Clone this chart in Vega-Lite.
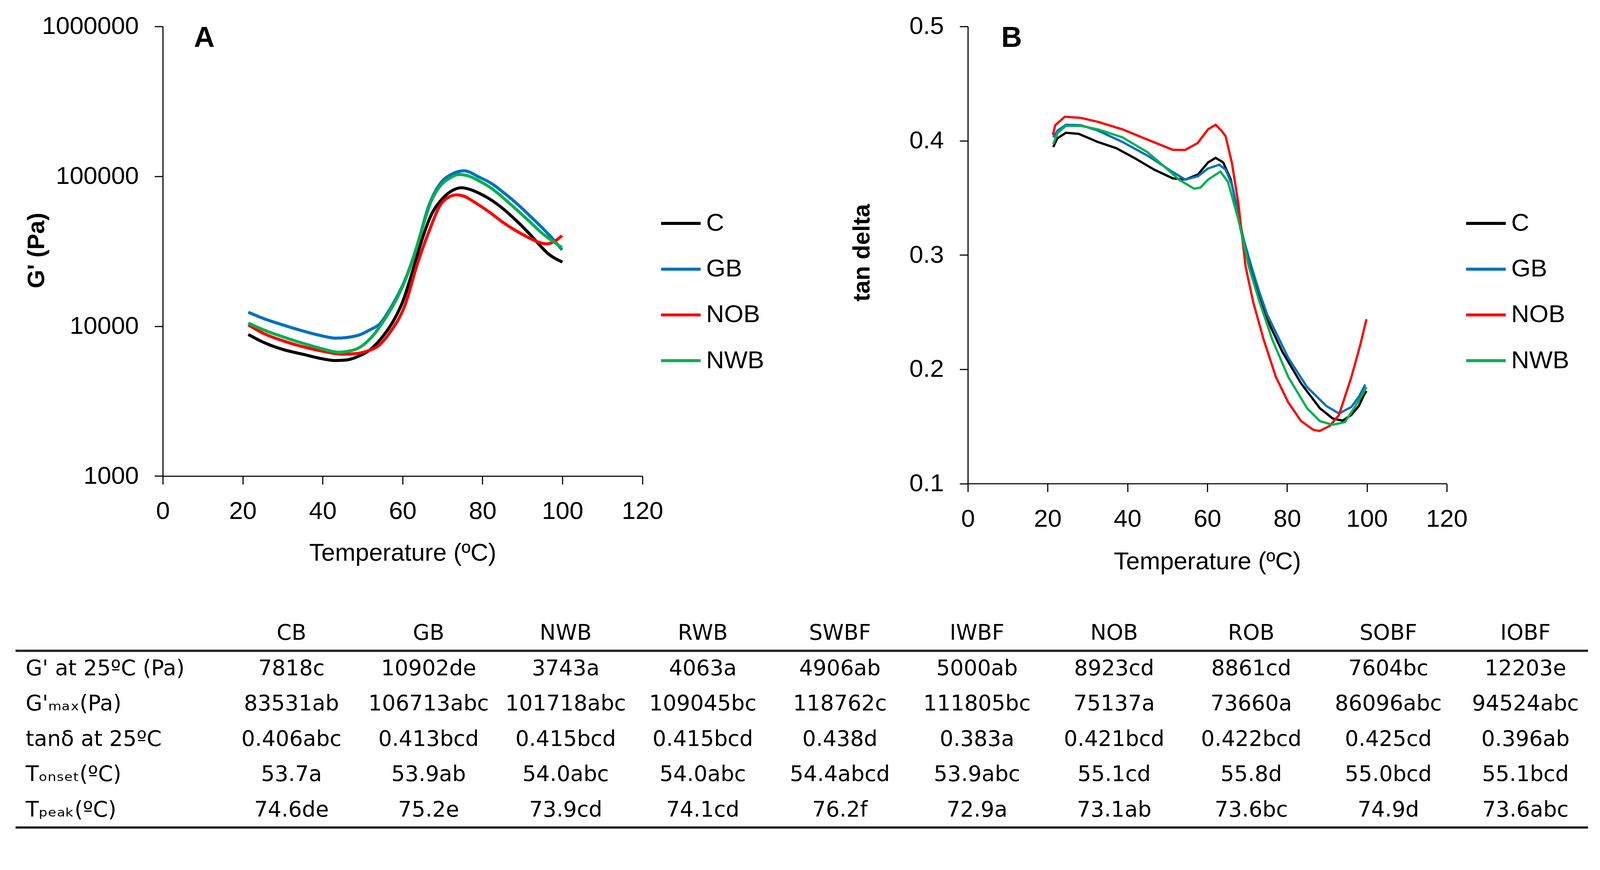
{
  "$schema": "https://vega.github.io/schema/vega-lite/v6.json",
  "background": "white",
  "padding": {"left": 36.7, "top": 35.7, "right": 33.8, "bottom": 31},
  "config": {
    "font": "Liberation Sans",
    "view": {"stroke": null},
    "axis": {"grid": false, "domainColor": "black", "domainWidth": 2.9, "tickColor": "black", "tickWidth": 2.9, "tickSize": 21.2, "labelColor": "black", "labelFontSize": 63.7, "labelFont": "Liberation Sans", "labelPadding": 40.5, "labelFlush": false, "labelLimit": 500, "titleColor": "black", "titleFont": "Liberation Sans", "titleFontSize": 62.7, "titleFontWeight": "normal"},
    "legend": {"title": null, "orient": "none", "legendX": 1271.3, "legendY": 449.4, "padding": 0, "symbolType": "stroke", "symbolSize": 10267, "symbolStrokeWidth": 7.7, "rowPadding": 30.2, "labelOffset": 9.7, "labelFontSize": 63.7, "labelFont": "Liberation Sans", "labelColor": "black", "labelLimit": 400}
  },
  "datasets": {
    "gA": [
      {"s":"C","T":21.4,"G":8800},{"s":"C","T":25,"G":7850},{"s":"C","T":30,"G":7000},{"s":"C","T":35,"G":6500},{"s":"C","T":40,"G":6050},{"s":"C","T":43,"G":5900},{"s":"C","T":46,"G":5950},{"s":"C","T":49,"G":6300},{"s":"C","T":52,"G":7000},{"s":"C","T":55,"G":8500},{"s":"C","T":58,"G":11200},{"s":"C","T":60,"G":14500},{"s":"C","T":62,"G":21000},{"s":"C","T":64.6,"G":36000},{"s":"C","T":67,"G":54000},{"s":"C","T":70,"G":71000},{"s":"C","T":72.5,"G":80500},{"s":"C","T":74.7,"G":83900},{"s":"C","T":77,"G":81500},{"s":"C","T":79.2,"G":77000},{"s":"C","T":82,"G":70000},{"s":"C","T":85.4,"G":60000},{"s":"C","T":88.5,"G":50500},{"s":"C","T":91.7,"G":41500},{"s":"C","T":94,"G":35500},{"s":"C","T":96.4,"G":30500},{"s":"C","T":98.5,"G":28000},{"s":"C","T":100,"G":26800},
      {"s":"GB","T":21.4,"G":12400},{"s":"GB","T":25,"G":11300},{"s":"GB","T":30,"G":10200},{"s":"GB","T":35,"G":9300},{"s":"GB","T":40,"G":8600},{"s":"GB","T":43.3,"G":8320},{"s":"GB","T":46,"G":8400},{"s":"GB","T":49.5,"G":8800},{"s":"GB","T":52,"G":9500},{"s":"GB","T":54.2,"G":10300},{"s":"GB","T":57.4,"G":13800},{"s":"GB","T":60.6,"G":20300},{"s":"GB","T":63.7,"G":34800},{"s":"GB","T":66.5,"G":63000},{"s":"GB","T":69.7,"G":91400},{"s":"GB","T":72.2,"G":103000},{"s":"GB","T":75.4,"G":108900},{"s":"GB","T":79.2,"G":98600},{"s":"GB","T":82.3,"G":89400},{"s":"GB","T":85.5,"G":77000},{"s":"GB","T":88.6,"G":65800},{"s":"GB","T":91.7,"G":55000},{"s":"GB","T":94.8,"G":45700},{"s":"GB","T":97.5,"G":38500},{"s":"GB","T":99.9,"G":32300},
      {"s":"NOB","T":21.4,"G":10200},{"s":"NOB","T":25,"G":9000},{"s":"NOB","T":30,"G":8000},{"s":"NOB","T":35,"G":7300},{"s":"NOB","T":40,"G":6800},{"s":"NOB","T":45,"G":6500},{"s":"NOB","T":48,"G":6550},{"s":"NOB","T":51,"G":6800},{"s":"NOB","T":54,"G":7400},{"s":"NOB","T":57,"G":9200},{"s":"NOB","T":60.6,"G":13800},{"s":"NOB","T":63.7,"G":26000},{"s":"NOB","T":66.5,"G":42100},{"s":"NOB","T":69.7,"G":65800},{"s":"NOB","T":71.5,"G":72500},{"s":"NOB","T":73.5,"G":75200},{"s":"NOB","T":75.5,"G":73500},{"s":"NOB","T":77.5,"G":68500},{"s":"NOB","T":80,"G":62000},{"s":"NOB","T":82.3,"G":56200},{"s":"NOB","T":85,"G":49500},{"s":"NOB","T":88.6,"G":43000},{"s":"NOB","T":91.5,"G":39000},{"s":"NOB","T":94.8,"G":35800},{"s":"NOB","T":96.1,"G":35400},{"s":"NOB","T":98,"G":36800},{"s":"NOB","T":99.9,"G":40200},
      {"s":"NWB","T":21.4,"G":10500},{"s":"NWB","T":25,"G":9500},{"s":"NWB","T":30,"G":8500},{"s":"NWB","T":35,"G":7700},{"s":"NWB","T":40,"G":7050},{"s":"NWB","T":44,"G":6700},{"s":"NWB","T":47,"G":6850},{"s":"NWB","T":49.5,"G":7280},{"s":"NWB","T":52,"G":8300},{"s":"NWB","T":55.8,"G":11400},{"s":"NWB","T":59,"G":16100},{"s":"NWB","T":62.2,"G":26000},{"s":"NWB","T":64.6,"G":42000},{"s":"NWB","T":67.2,"G":68500},{"s":"NWB","T":69.7,"G":87900},{"s":"NWB","T":72,"G":98000},{"s":"NWB","T":74.1,"G":102800},{"s":"NWB","T":76.5,"G":100500},{"s":"NWB","T":79.2,"G":93000},{"s":"NWB","T":82.3,"G":83000},{"s":"NWB","T":85.4,"G":71000},{"s":"NWB","T":88.5,"G":60000},{"s":"NWB","T":91.7,"G":50100},{"s":"NWB","T":95,"G":41500},{"s":"NWB","T":97.5,"G":37000},{"s":"NWB","T":99.9,"G":33400}
    ],
    "tB": [
      {"s":"C","T":21.4,"v":0.3945},{"s":"C","T":22.4,"v":0.402},{"s":"C","T":24.6,"v":0.407},{"s":"C","T":27.8,"v":0.406},{"s":"C","T":32.5,"v":0.399},{"s":"C","T":37.2,"v":0.3935},{"s":"C","T":41.9,"v":0.3846},{"s":"C","T":46.7,"v":0.3747},{"s":"C","T":51.4,"v":0.367},{"s":"C","T":54.5,"v":0.366},{"s":"C","T":57.7,"v":0.3705},{"s":"C","T":60.2,"v":0.381},{"s":"C","T":62.1,"v":0.385},{"s":"C","T":64,"v":0.381},{"s":"C","T":65.9,"v":0.366},{"s":"C","T":67.1,"v":0.347},{"s":"C","T":68.8,"v":0.318},{"s":"C","T":70.7,"v":0.292},{"s":"C","T":72.5,"v":0.268},{"s":"C","T":74.4,"v":0.248},{"s":"C","T":78.8,"v":0.2154},{"s":"C","T":83.5,"v":0.1877},{"s":"C","T":88.2,"v":0.166},{"s":"C","T":91.4,"v":0.157},{"s":"C","T":93.9,"v":0.155},{"s":"C","T":96.1,"v":0.16},{"s":"C","T":98,"v":0.168},{"s":"C","T":99.2,"v":0.177},{"s":"C","T":99.9,"v":0.181},
      {"s":"GB","T":21.4,"v":0.403},{"s":"GB","T":22.5,"v":0.409},{"s":"GB","T":24.6,"v":0.414},{"s":"GB","T":28.3,"v":0.4136},{"s":"GB","T":32.5,"v":0.409},{"s":"GB","T":38.7,"v":0.399},{"s":"GB","T":45,"v":0.387},{"s":"GB","T":51.4,"v":0.3725},{"s":"GB","T":54.5,"v":0.366},{"s":"GB","T":57.7,"v":0.369},{"s":"GB","T":60.2,"v":0.3757},{"s":"GB","T":63,"v":0.379},{"s":"GB","T":64.6,"v":0.3747},{"s":"GB","T":66.2,"v":0.3615},{"s":"GB","T":67.5,"v":0.34},{"s":"GB","T":69,"v":0.315},{"s":"GB","T":70.9,"v":0.292},{"s":"GB","T":73,"v":0.268},{"s":"GB","T":75,"v":0.248},{"s":"GB","T":80.3,"v":0.21},{"s":"GB","T":85,"v":0.1845},{"s":"GB","T":89.8,"v":0.168},{"s":"GB","T":93,"v":0.1613},{"s":"GB","T":96.1,"v":0.167},{"s":"GB","T":98,"v":0.176},{"s":"GB","T":99.6,"v":0.1867},
      {"s":"NOB","T":21.3,"v":0.405},{"s":"NOB","T":21.9,"v":0.4136},{"s":"NOB","T":24.3,"v":0.421},{"s":"NOB","T":28.3,"v":0.42},{"s":"NOB","T":32.5,"v":0.4166},{"s":"NOB","T":38.7,"v":0.41},{"s":"NOB","T":45,"v":0.401},{"s":"NOB","T":51.4,"v":0.392},{"s":"NOB","T":54.5,"v":0.392},{"s":"NOB","T":57.6,"v":0.398},{"s":"NOB","T":60.2,"v":0.41},{"s":"NOB","T":62.1,"v":0.414},{"s":"NOB","T":63.5,"v":0.409},{"s":"NOB","T":64.6,"v":0.404},{"s":"NOB","T":66.2,"v":0.38},{"s":"NOB","T":67.8,"v":0.345},{"s":"NOB","T":69.6,"v":0.29},{"s":"NOB","T":71.5,"v":0.259},{"s":"NOB","T":74.1,"v":0.2263},{"s":"NOB","T":77.2,"v":0.1933},{"s":"NOB","T":80.3,"v":0.171},{"s":"NOB","T":83.5,"v":0.1547},{"s":"NOB","T":86.6,"v":0.147},{"s":"NOB","T":88.2,"v":0.146},{"s":"NOB","T":90.7,"v":0.1505},{"s":"NOB","T":93,"v":0.16},{"s":"NOB","T":96.1,"v":0.193},{"s":"NOB","T":98.3,"v":0.2207},{"s":"NOB","T":99.9,"v":0.2438},
      {"s":"NWB","T":21.4,"v":0.397},{"s":"NWB","T":22.5,"v":0.407},{"s":"NWB","T":24.6,"v":0.413},{"s":"NWB","T":28.3,"v":0.413},{"s":"NWB","T":32.5,"v":0.41},{"s":"NWB","T":38.7,"v":0.403},{"s":"NWB","T":45,"v":0.39},{"s":"NWB","T":49.8,"v":0.3757},{"s":"NWB","T":52.9,"v":0.366},{"s":"NWB","T":56.7,"v":0.358},{"s":"NWB","T":58.3,"v":0.359},{"s":"NWB","T":60.2,"v":0.366},{"s":"NWB","T":63.3,"v":0.373},{"s":"NWB","T":65.2,"v":0.364},{"s":"NWB","T":67.8,"v":0.331},{"s":"NWB","T":70.4,"v":0.29},{"s":"NWB","T":73.1,"v":0.259},{"s":"NWB","T":76.3,"v":0.226},{"s":"NWB","T":80.3,"v":0.1933},{"s":"NWB","T":85,"v":0.166},{"s":"NWB","T":88.2,"v":0.1547},{"s":"NWB","T":91.4,"v":0.1515},{"s":"NWB","T":94.5,"v":0.1537},{"s":"NWB","T":97.7,"v":0.171},{"s":"NWB","T":99.9,"v":0.1845}
    ],
    "tbl": [
      {"r":"hdr","label":"","CB":"CB","GB":"GB","NWB":"NWB","RWB":"RWB","SWBF":"SWBF","IWBF":"IWBF","NOB":"NOB","ROB":"ROB","SOBF":"SOBF","IOBF":"IOBF"},
      {"r":"r1","label":"G' at 25ºC (Pa)","CB":"7818c","GB":"10902de","NWB":"3743a","RWB":"4063a","SWBF":"4906ab","IWBF":"5000ab","NOB":"8923cd","ROB":"8861cd","SOBF":"7604bc","IOBF":"12203e"},
      {"r":"r2","label":"G'ₘₐₓ(Pa)","CB":"83531ab","GB":"106713abc","NWB":"101718abc","RWB":"109045bc","SWBF":"118762c","IWBF":"111805bc","NOB":"75137a","ROB":"73660a","SOBF":"86096abc","IOBF":"94524abc"},
      {"r":"r3","label":"tanδ at 25ºC","CB":"0.406abc","GB":"0.413bcd","NWB":"0.415bcd","RWB":"0.415bcd","SWBF":"0.438d","IWBF":"0.383a","NOB":"0.421bcd","ROB":"0.422bcd","SOBF":"0.425cd","IOBF":"0.396ab"},
      {"r":"r4","label":"Tₒₙₛₑₜ(ºC)","CB":"53.7a","GB":"53.9ab","NWB":"54.0abc","RWB":"54.0abc","SWBF":"54.4abcd","IWBF":"53.9abc","NOB":"55.1cd","ROB":"55.8d","SOBF":"55.0bcd","IOBF":"55.1bcd"},
      {"r":"r5","label":"Tₚₑₐₖ(ºC)","CB":"74.6de","GB":"75.2e","NWB":"73.9cd","RWB":"74.1cd","SWBF":"76.2f","IWBF":"72.9a","NOB":"73.1ab","ROB":"73.6bc","SOBF":"74.9d","IOBF":"73.6abc"}
    ],
    "lab": [{"t": "A"}, {"t": "B"}]
  },
  "spacing": 105.5,
  "vconcat": [
    {
      "hconcat": [
        {"width": 376.4, "height": 10, "data": {"values": []}, "mark": "point"},
        {
          "width": 1227.7,
          "height": 1151.4,
          "layer": [
            {
              "data": {"name": "gA"},
              "mark": {"type": "line", "strokeWidth": 7.7, "interpolate": "monotone"},
              "encoding": {
                "x": {"field": "T", "type": "quantitative", "scale": {"domain": [0, 120], "nice": false, "zero": false}, "axis": {"title": "Temperature (ºC)", "values": [0, 20, 40, 60, 80, 100, 120], "labelPadding": 38.6, "titleY": 197.9, "titleBaseline": "middle"}},
                "y": {"field": "G", "type": "quantitative", "scale": {"type": "log", "domain": [1000, 1000000], "nice": false}, "axis": {"title": "G' (Pa)", "titleFontWeight": "bold", "titleFontSize": 60.8, "values": [1000, 10000, 100000, 1000000], "format": "d", "titleAngle": 270, "titleBaseline": "top", "titleX": -352.3, "titleY": 573.3}},
                "color": {"field": "s", "type": "nominal", "scale": {"domain": ["C", "GB", "NOB", "NWB"], "range": ["#000000", "#0070C0", "#FF0000", "#00B050"]}},
                "order": {"field": "T", "type": "quantitative"}
              }
            },
            {
              "data": {"name": "lab"},
              "transform": [{"filter": "datum.t === 'A'"}],
              "mark": {"type": "text", "fontSize": 73.4, "fontWeight": "bold", "align": "center", "baseline": "alphabetic", "color": "black"},
              "encoding": {
                "x": {"datum": 10.4, "type": "quantitative"},
                "y": {"datum": 731000, "type": "quantitative"},
                "text": {"field": "t"}
              }
            }
          ]
        },
        {"width": 832.9, "height": 10, "data": {"values": []}, "mark": "point"},
        {
          "width": 1225.8,
          "height": 1170.7,
          "layer": [
            {
              "data": {"name": "tB"},
              "mark": {"type": "line", "strokeWidth": 5.8},
              "encoding": {
                "x": {"field": "T", "type": "quantitative", "scale": {"domain": [0, 120], "nice": false, "zero": false}, "axis": {"title": "Temperature (ºC)", "values": [0, 20, 40, 60, 80, 100, 120], "labelPadding": 38.6, "titleY": 199.8, "titleBaseline": "middle"}},
                "y": {"field": "v", "type": "quantitative", "scale": {"domain": [0.1, 0.5], "nice": false, "zero": false}, "axis": {"title": "tan delta", "titleFontWeight": "bold", "titleFontSize": 60.8, "values": [0.1, 0.2, 0.3, 0.4, 0.5], "format": ".1f", "titleAngle": 270, "titleBaseline": "top", "titleX": -300.2, "titleY": 579.1}},
                "color": {"field": "s", "type": "nominal", "scale": {"domain": ["C", "GB", "NOB", "NWB"], "range": ["#000000", "#0070C0", "#FF0000", "#00B050"]}},
                "order": {"field": "T", "type": "quantitative"}
              }
            },
            {
              "data": {"name": "lab"},
              "transform": [{"filter": "datum.t === 'B'"}],
              "mark": {"type": "text", "fontSize": 73.4, "fontWeight": "bold", "align": "center", "baseline": "alphabetic", "color": "black"},
              "encoding": {
                "x": {"datum": 10.96, "type": "quantitative"},
                "y": {"datum": 0.4822, "type": "quantitative"},
                "text": {"field": "t"}
              }
            }
          ]
        }
      ],
      "spacing": 0,
      "bounds": "flush",
      "resolve": {"scale": {"color": "independent"}, "legend": {"color": "independent"}}
    },
    {
      "width": 4025.7,
      "height": 542.9,
      "data": {"name": "tbl"},
      "layer": [
        {
          "transform": [{"fold": ["CB", "GB", "NWB", "RWB", "SWBF", "IWBF", "NOB", "ROB", "SOBF", "IOBF"], "as": ["c", "t"]}],
          "mark": {"type": "text", "font": "DejaVu Sans", "fontSize": 55, "color": "black", "baseline": "middle", "align": "center"},
          "encoding": {
            "x": {"field": "c", "type": "nominal", "axis": null, "scale": {"type": "point", "domain": ["CB", "GB", "NWB", "RWB", "SWBF", "IWBF", "NOB", "ROB", "SOBF", "IOBF"], "padding": 0, "range": [706.5, 3865.5]}},
            "y": {"field": "r", "type": "nominal", "axis": null, "scale": {"type": "band", "domain": ["hdr", "r1", "r2", "r3", "r4", "r5"], "paddingInner": 0, "paddingOuter": 0}},
            "text": {"field": "t"}
          }
        },
        {
          "mark": {"type": "text", "font": "DejaVu Sans", "fontSize": 55, "color": "black", "baseline": "middle", "align": "left", "dx": 26},
          "encoding": {
            "x": {"value": 0},
            "y": {"field": "r", "type": "nominal", "axis": null},
            "text": {"field": "label"}
          }
        },
        {
          "transform": [{"filter": {"field": "r", "oneOf": ["hdr", "r5"]}}],
          "mark": {"type": "rule", "strokeWidth": 5.8, "color": "#222222"},
          "encoding": {
            "y": {"field": "r", "type": "nominal", "axis": null, "bandPosition": 1}
          }
        }
      ]
    }
  ]
}
